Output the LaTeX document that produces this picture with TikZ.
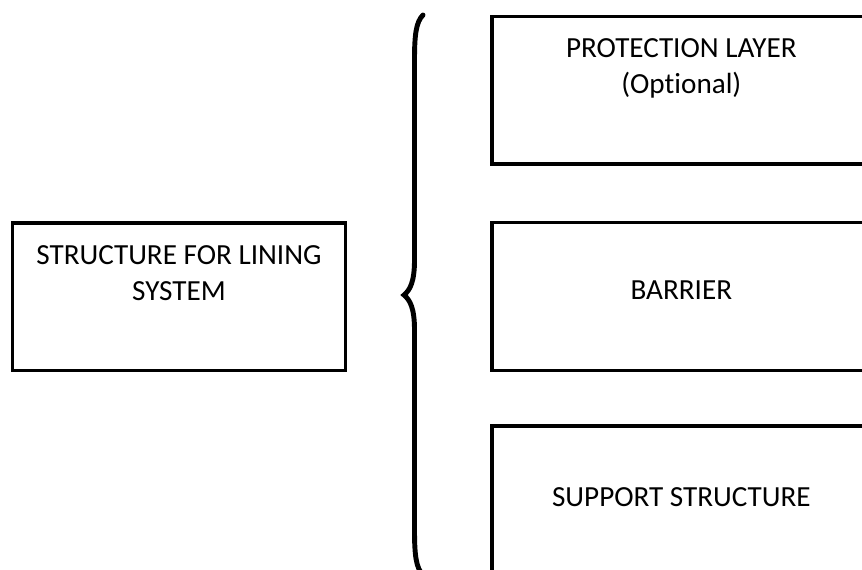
\documentclass[tikz,border=0pt]{standalone}
\usepackage{fontspec}
\setmainfont[Ligatures=NoCommon]{Carlito}
\usetikzlibrary{positioning}

\begin{document}
\begin{tikzpicture}[x=0.02cm,y=-0.02cm,
        layer/.style={draw=black,line width=2pt,inner sep=0pt,outer sep=0pt,minimum width=7.58cm,minimum height=2.96cm},
        caption/.style={inner sep=0pt,align=center,font=\fontsize{16.6}{20.5}\selectfont}]
        \useasboundingbox (0,0) rectangle (862,569);
        \clip (0,0) rectangle (862,569);
        \node[layer,minimum width=6.66cm,minimum height=2.95cm](lining)at(179, 296.75){};
        \node[layer](protection)at(681.35, 90.25){};
        \node[layer](barrier)at(681.35, 296.65){};
        \node[layer](support)at(681.35, 500){};
        \node[caption,below=0.44cm of lining.north](lining text){STRUCTURE FOR LINING\\SYSTEM};
        \node[caption,below=0.44cm of protection.north](protection text){PROTECTION LAYER\\(Optional)};
        \node[caption,below=1.16cm of barrier.north](barrier text){BARRIER};
        \node[caption,below=1.22cm of support.north](support text){SUPPORT STRUCTURE};
        \draw[line width=2.8pt,line cap=round](423, 15) .. controls (416, 22) and (414.5, 35) .. (414.5, 60)
            -- (414.5, 260) .. controls (414.5, 282) and (410, 290) .. (404, 295)
            .. controls (410, 300) and (414.5, 308) .. (414.5, 330)
            -- (414.5, 530) .. controls (414.5, 555) and (416, 568) .. (423, 575);
\end{tikzpicture}
\end{document}
